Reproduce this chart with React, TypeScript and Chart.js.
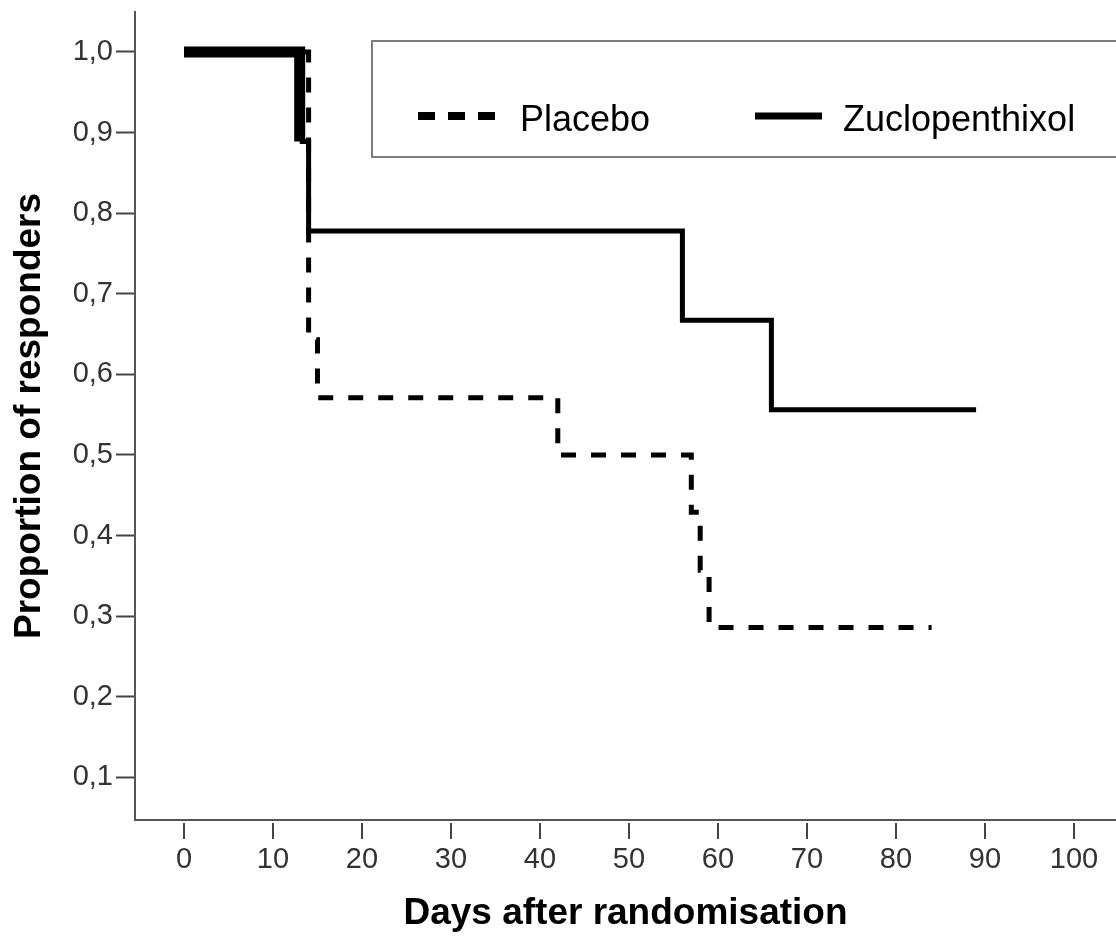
import React, { useEffect, useRef } from 'react';
import { Chart, registerables } from 'chart.js';

Chart.register(...registerables);

// ---- data ----
const seriesLabels = ['Placebo', 'Zuclopenthixol'];
const placeboDays = [0, 14, 15, 42, 57, 58, 59, 84];
const placeboProportion = [1.0, 0.643, 0.571, 0.5, 0.429, 0.357, 0.286, 0.286];
const zucloDays = [0, 13, 14, 56, 66, 89];
const zucloProportion = [1.0, 0.889, 0.778, 0.667, 0.556, 0.556];
const xTickValues = [0, 10, 20, 30, 40, 50, 60, 70, 80, 90, 100];
const yTickValues = [0.1, 0.2, 0.3, 0.4, 0.5, 0.6, 0.7, 0.8, 0.9, 1.0];
const xTitle = 'Days after randomisation';
const yTitle = 'Proportion of responders';

const FONT = "'Liberation Sans', Arial, sans-serif";

const xTickMarks = {
  id: 'xTickMarks',
  afterDraw(chart: any) {
    const s = chart.scales.x;
    const ctx = chart.ctx;
    ctx.save();
    ctx.strokeStyle = '#444';
    ctx.lineWidth = 2;
    ctx.beginPath();
    s.ticks.forEach((t: any) => {
      const px = Math.round(s.getPixelForValue(t.value));
      ctx.moveTo(px, s.top + 3);
      ctx.lineTo(px, s.top + 19);
    });
    ctx.stroke();
    ctx.restore();
  },
};

const legendBox = {
  id: 'legendBox',
  afterDraw(chart: any) {
    const ctx = chart.ctx;
    const ds = chart.data.datasets;
    ctx.save();
    ctx.strokeStyle = '#7d7d7d';
    ctx.lineWidth = 2;
    ctx.strokeRect(372, 41, 800, 116);

    const lineY = 116;
    const textY = 121;
    ctx.font = `36px ${FONT}`;
    ctx.fillStyle = '#000';
    ctx.textBaseline = 'middle';
    ctx.textAlign = 'left';

    ctx.strokeStyle = '#000';
    ctx.lineWidth = 8;
    ctx.lineCap = 'butt';
    ctx.setLineDash([17, 13]);
    ctx.beginPath();
    ctx.moveTo(418, lineY);
    ctx.lineTo(497, lineY);
    ctx.stroke();
    ctx.setLineDash([]);
    ctx.fillText(ds[0].label, 520, textY);

    ctx.lineWidth = 7;
    ctx.beginPath();
    ctx.moveTo(755, lineY);
    ctx.lineTo(822, lineY);
    ctx.stroke();
    ctx.fillText(ds[1].label, 843, textY);
    ctx.restore();
  },
};

export default function App() {
  const ref = useRef<HTMLCanvasElement | null>(null);

  useEffect(() => {
    if (!ref.current) return;
    const chart = new Chart(ref.current, {
      type: 'line',
      data: {
        datasets: [
          {
            label: seriesLabels[0],
            data: placeboDays.map((d, i) => ({ x: d, y: placeboProportion[i] })),
            borderColor: '#000',
            borderWidth: 5,
            borderDash: [15, 15],
            borderCapStyle: 'butt',
            borderJoinStyle: 'miter',
            stepped: 'before',
            pointRadius: 0,
            fill: false,
          },
          {
            label: seriesLabels[1],
            data: zucloDays.map((d, i) => ({ x: d, y: zucloProportion[i] })),
            borderColor: '#000',
            borderWidth: 5,
            borderCapStyle: 'butt',
            borderJoinStyle: 'miter',
            stepped: 'before',
            pointRadius: 0,
            fill: false,
            segment: {
              borderWidth: (c: any) => (c.p0.parsed.y === 1 ? 11 : undefined),
            },
          },
        ],
      },
      options: {
        responsive: false,
        animation: false,
        layout: { padding: { top: 12, right: 0, left: 0, bottom: 0 } },
        plugins: {
          legend: { display: false },
          tooltip: { enabled: false },
        },
        scales: {
          x: {
            type: 'linear',
            min: -5.506,
            max: 104.72,
            afterBuildTicks: (s: any) => {
              s.ticks = xTickValues.map((v) => ({ value: v }));
            },
            afterFit: (s: any) => {
              s.height = 119;
              s.paddingLeft = 0;
              s.paddingRight = 0;
            },
            grid: {
              display: true,
              drawOnChartArea: false,
              drawTicks: true,
              tickLength: 18,
              tickColor: 'rgba(0,0,0,0)',
            },
            border: { display: true, color: '#555', width: 2 },
            ticks: {
              color: '#333',
              font: { family: FONT, size: 29 },
              padding: 5,
              maxRotation: 0,
              autoSkip: false,
              callback: (v: any) => String(v),
            },
            title: {
              display: true,
              text: xTitle,
              color: '#000',
              font: { family: FONT, size: 37, weight: 'bold' },
              padding: { top: 0, bottom: 3 },
            },
          },
          y: {
            type: 'linear',
            min: 0.0471,
            max: 1.0496,
            afterBuildTicks: (s: any) => {
              s.ticks = yTickValues.map((v) => ({ value: v }));
            },
            afterFit: (s: any) => {
              s.width = 135;
              s.paddingTop = 0;
              s.paddingBottom = 0;
            },
            grid: {
              display: true,
              drawOnChartArea: false,
              drawTicks: true,
              tickLength: 19,
              tickColor: '#444',
              tickWidth: 2,
            },
            border: { display: true, color: '#555', width: 2 },
            ticks: {
              color: '#333',
              font: { family: FONT, size: 29 },
              padding: 3,
              autoSkip: false,
              callback: (v: any) => Number(v).toFixed(1).replace('.', ','),
            },
            title: {
              display: true,
              text: yTitle,
              color: '#000',
              font: { family: FONT, size: 37, weight: 'bold' },
              padding: { top: 8, bottom: 0 },
            },
          },
        },
      },
      plugins: [xTickMarks, legendBox],
    } as any);
    return () => chart.destroy();
  }, []);

  return (
    <div style={{ position: 'absolute', left: 0, top: 0, width: 1116, height: 939, background: '#fff' }}>
      <canvas ref={ref} width={1116} height={939} />
    </div>
  );
}
